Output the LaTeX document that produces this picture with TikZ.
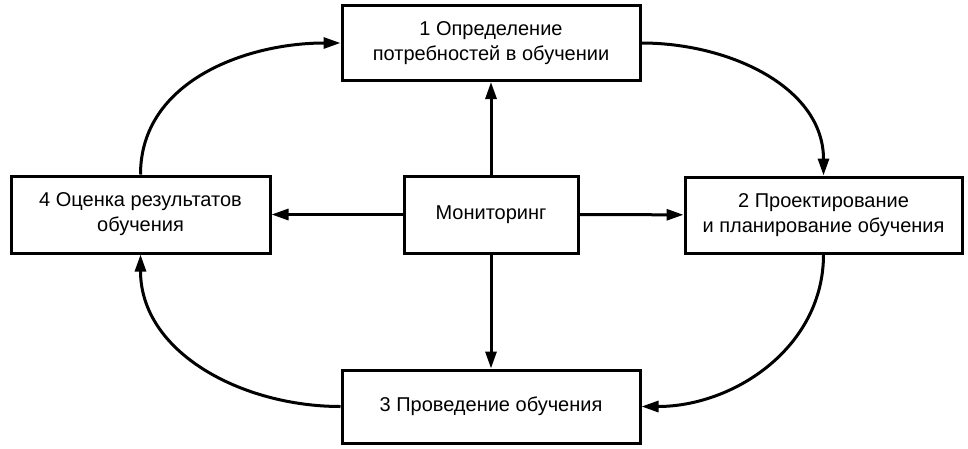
\documentclass[tikz,border=0pt]{standalone}
\usepackage{fontspec}
\setmainfont{Liberation Sans}
\usetikzlibrary{arrows.meta}
\tikzstyle{stage}=[rectangle, draw, line width=3pt, align=center, inner sep=0pt, font=\fontsize{20}{25}\selectfont]
\tikzstyle{arr}=[line width=3pt, -{Triangle[length=17pt,width=11pt]}]
\newcommand{\stage}{\node[stage]}

\begin{document}
\begin{tikzpicture}[x=1pt,y=-1pt]
            \useasboundingbox (0,0) rectangle (968,448);
            \stage[minimum width=298pt, minimum height=75pt] (need) at (491,43){1 Определение\\потребностей в обучении};
            \stage[minimum width=259pt, minimum height=77pt] (eval) at (140.5,214.5){4 Оценка результатов\\обучения};
            \stage[minimum width=174pt, minimum height=77pt] (mon) at (491,214.5){Мониторинг};
            \stage[minimum width=277pt, minimum height=76pt] (plan) at (823.5,215){2 Проектирование\\и планирование обучения};
            \stage[minimum width=298pt, minimum height=73pt] (run) at (491,406.5){3 Проведение обучения};
            \path
                (mon) edge[arr] (need) edge[arr] (run) edge[arr] (eval) edge[arr] (plan)
                (eval.north) edge[arr, out=90, in=180] (need.west)
                (need.east) edge[arr, out=0, in=90] (plan.north)
                (plan.south) edge[arr, out=-90, in=0] (run.east)
                (run.west) edge[arr, out=180, in=-90] (eval.south)
            ;
        \end{tikzpicture}
\end{document}
